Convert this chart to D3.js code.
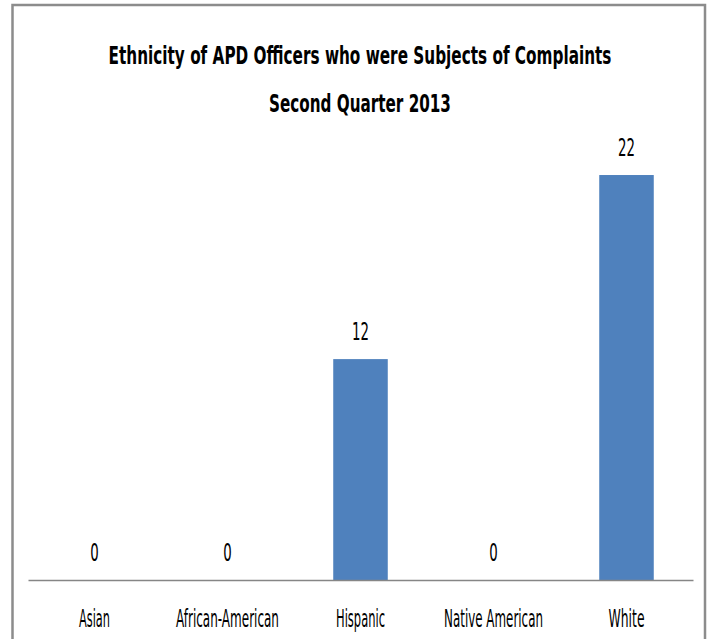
<!DOCTYPE html>
<html>
<head>
<meta charset="utf-8">
<script src="https://cdn.jsdelivr.net/npm/d3@7"></script>
<style>
  html, body { margin: 0; padding: 0; background: #fff; }
  svg { display: block; }
</style>
</head>
<body>
<svg id="chart" width="711" height="639"></svg>
<script>
// Complaint subjects by officer ethnicity, Q2 2013
const categories = ["Asian", "African-American", "Hispanic", "Native American", "White"];
const officerCounts = [0, 0, 12, 0, 22];
const titleLines = ["Ethnicity of APD Officers who were Subjects of Complaints", "Second Quarter 2013"];

const svg = d3.select("#chart");
const H = 639;
const font = "'DejaVu Sans Condensed', 'DejaVu Sans', sans-serif";

// target widths for the narrow, tall lettering
const titleW = [503, 182];
const catW = { "Asian": 31, "African-American": 103, "Hispanic": 49, "Native American": 99, "White": 36 };
const digitW = 8.5;

// squeeze a middle-anchored text horizontally around its anchor x
function narrow(sel, widthOf) {
  sel.each(function(d, i) {
    const t = d3.select(this);
    const cx = +t.attr("x");
    const natural = this.getComputedTextLength();
    const s = widthOf(d, i) / natural;
    t.attr("transform", `translate(${cx},0) scale(${s},1) translate(${-cx},0)`);
  });
}

// outer frame
svg.append("path")
  .attr("d", `M12.5,${H} V5 H705 V${H}`)
  .attr("fill", "none")
  .attr("stroke", "#8c8c8c")
  .attr("stroke-width", 2.5);

// title
svg.append("g").selectAll("text")
  .data(titleLines)
  .join("text")
  .attr("x", 360)
  .attr("y", (d, i) => 64 + i * 48)
  .attr("text-anchor", "middle")
  .attr("font-family", font)
  .attr("font-weight", "bold")
  .attr("font-size", 25)
  .attr("fill", "#000")
  .text(d => d)
  .call(narrow, (d, i) => titleW[i]);

const x = d3.scaleBand().domain(categories).range([28, 693]).padding(0);
const y = d3.scaleLinear().domain([0, 25]).range([580, 119.8]);
const barW = x.bandwidth() * 0.41;

// bars
svg.append("g").selectAll("rect")
  .data(categories)
  .join("rect")
  .attr("x", (d) => x(d) + (x.bandwidth() - barW) / 2)
  .attr("y", (d, i) => y(officerCounts[i]))
  .attr("width", barW)
  .attr("height", (d, i) => y(0) - y(officerCounts[i]))
  .attr("fill", "#4f81bd");

// value labels
svg.append("g").selectAll("text")
  .data(categories)
  .join("text")
  .attr("x", d => x(d) + x.bandwidth() / 2)
  .attr("y", (d, i) => y(officerCounts[i]) - 19)
  .attr("text-anchor", "middle")
  .attr("font-family", font)
  .attr("font-size", 24)
  .attr("fill", "#000")
  .text((d, i) => officerCounts[i])
  .call(narrow, (d, i) => String(officerCounts[i]).length * digitW);

// category axis
const axis = svg.append("g")
  .attr("transform", `translate(0,${y(0)})`)
  .call(d3.axisBottom(x).tickSize(0));
axis.select(".domain").attr("stroke", "#868686").attr("stroke-width", 1.5);
axis.selectAll("text")
  .attr("x", 0)
  .attr("y", 47)
  .attr("dy", null)
  .attr("font-family", font)
  .attr("font-size", 24)
  .attr("fill", "#000")
  .call(narrow, d => catW[d]);
</script>
</body>
</html>
